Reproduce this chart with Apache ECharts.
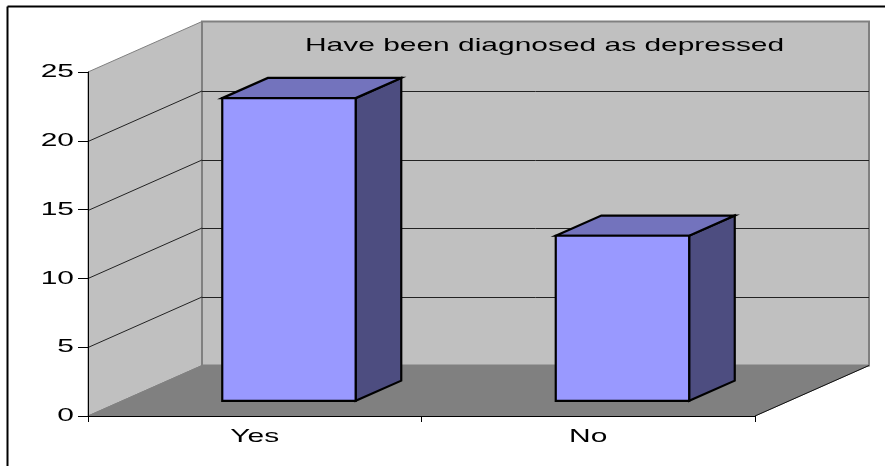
<!DOCTYPE html>
<html>
<head>
<meta charset="utf-8">
<style>html,body{margin:0;padding:0;background:#fff}#chart{width:885px;height:466px}</style>
<script src="https://cdn.jsdelivr.net/npm/echarts@6/dist/echarts.min.js"></script>
</head>
<body>
<div id="chart"></div>
<script>
// Column values and axis labels
const categories = ['Yes', 'No'];
const counts = [22, 12];
const yTicks = [0, 5, 10, 15, 20, 25];
const chartTitle = 'Have been diagnosed as depressed';

// Oblique projection of the box: screen offset from the front plane to the back wall
const DEPTH_X = 114;
const DEPTH_Y = 50.5;
const BAR_FRONT = 0.3;   // depth fraction at which a column starts
const BAR_BACK = 0.7;    // depth fraction at which a column ends
const BAR_WIDTH = 0.4;   // share of a category band
const FONT = '19px "Liberation Sans", Arial, sans-serif';
const STRETCH = 1.575;

const chart = echarts.init(document.getElementById('chart'), null, { renderer: 'canvas' });

function stretchedText(text, x, y, align) {
  return {
    type: 'text', x: x, y: y, scaleX: STRETCH,
    style: { text: text, font: FONT, fill: '#000', align: align, verticalAlign: 'middle' }
  };
}
function poly(points, fill, stroke, lineWidth) {
  return {
    type: 'polygon', shape: { points: points },
    style: { fill: fill, stroke: stroke, lineWidth: lineWidth, lineJoin: 'miter' }
  };
}
function line(x1, y1, x2, y2, stroke, lineWidth) {
  return {
    type: 'line', shape: { x1: x1, y1: y1, x2: x2, y2: y2 },
    style: { stroke: stroke, lineWidth: lineWidth }
  };
}

// Side wall, back wall, floor and gridlines of the box
function renderBox(params, api) {
  const band = api.size([1, 0])[0];
  const bottomLeft = api.coord([0, 0]);
  const x0 = bottomLeft[0] - band / 2;
  const x1 = x0 + band * categories.length;
  const yBase = bottomLeft[1];
  const yTop = api.coord([0, yTicks[yTicks.length - 1]])[1];
  const children = [
    poly([[x0, yTop], [x0 + DEPTH_X, yTop - DEPTH_Y], [x0 + DEPTH_X, yBase - DEPTH_Y], [x0, yBase]], '#c0c0c0', '#808080', 1),
    poly([[x0 + DEPTH_X, yTop - DEPTH_Y], [x1 + DEPTH_X, yTop - DEPTH_Y], [x1 + DEPTH_X, yBase - DEPTH_Y], [x0 + DEPTH_X, yBase - DEPTH_Y]], '#c0c0c0', '#808080', 2),
    poly([[x0, yBase], [x0 + DEPTH_X, yBase - DEPTH_Y], [x1 + DEPTH_X, yBase - DEPTH_Y], [x1, yBase]], '#808080', '#808080', 1),
    line(x1, yBase, x1 + DEPTH_X, yBase - DEPTH_Y, '#111', 1)
  ];
  yTicks.slice(1, -1).forEach(function (t) {
    const y = Math.round(api.coord([0, t])[1]) + 0.5;
    children.push(line(x0, y, x0 + DEPTH_X, y - DEPTH_Y, '#222', 1));
    children.push(line(x0 + DEPTH_X, Math.round(y - DEPTH_Y) + 0.5, x1 + DEPTH_X, Math.round(y - DEPTH_Y) + 0.5, '#222', 1));
  });
  return { type: 'group', children: children };
}

// One column: front, top and side faces
function renderBar(params, api) {
  const band = api.size([1, 0])[0];
  const base = api.coord([api.value(0), 0]);
  const top = api.coord([api.value(0), api.value(1)]);
  const half = band * BAR_WIDTH / 2;
  const fx = DEPTH_X * BAR_FRONT, fy = DEPTH_Y * BAR_FRONT;
  const bx = DEPTH_X * BAR_BACK, by = DEPTH_Y * BAR_BACK;
  const l = base[0] - half, r = base[0] + half;
  const frontBase = base[1] - fy, frontTop = top[1] - fy;
  const backBase = base[1] - by, backTop = top[1] - by;
  return {
    type: 'group',
    children: [
      poly([[r + fx, frontTop], [r + bx, backTop], [r + bx, backBase], [r + fx, frontBase]], '#4d4d80', '#000', 2.2),
      poly([[l + fx, frontTop], [l + bx, backTop], [r + bx, backTop], [r + fx, frontTop]], '#7373bd', '#000', 2.2),
      poly([[l + fx, frontTop], [r + fx, frontTop], [r + fx, frontBase], [l + fx, frontBase]], '#9999ff', '#000', 2.2)
    ]
  };
}

// Wide-set tick labels, placed through the axis scales
function renderLabels(params, api) {
  const children = [];
  yTicks.forEach(function (t) {
    const p = api.coord([0, t]);
    const x0 = p[0] - api.size([1, 0])[0] / 2;
    children.push(stretchedText(String(t), x0 - 14, p[1], 'right'));
  });
  categories.forEach(function (c, i) {
    const p = api.coord([i, 0]);
    children.push(stretchedText(c, p[0], p[1] + 21, 'center'));
  });
  const tl = api.coord([0, yTicks[yTicks.length - 1]]);
  children.push(stretchedText(chartTitle, 305, tl[1] - 26, 'left'));
  return { type: 'group', children: children };
}

chart.setOption({
  animation: false,
  backgroundColor: '#fff',
  grid: { left: 88, top: 72, width: 667, height: 344 },
  xAxis: {
    type: 'category', data: categories, z: 5,
    axisLine: { lineStyle: { color: '#000', width: 1 } },
    axisTick: { show: true, length: 6, alignWithLabel: false, lineStyle: { color: '#000' } },
    axisLabel: { show: false },
    splitLine: { show: false }
  },
  yAxis: {
    type: 'value', min: 0, max: 25, interval: 5, z: 5,
    axisLine: { show: true, lineStyle: { color: '#000', width: 1 } },
    axisTick: { show: true, length: 10, lineStyle: { color: '#000' } },
    axisLabel: { show: false },
    splitLine: { show: false }
  },
  graphic: [
    { type: 'line', silent: true, shape: { x1: 7.5, y1: 6.5, x2: 885, y2: 6.5 }, style: { stroke: '#000', lineWidth: 2 } },
    { type: 'line', silent: true, shape: { x1: 7.5, y1: 6.5, x2: 7.5, y2: 466 }, style: { stroke: '#000', lineWidth: 2 } }
  ],
  series: [
    { type: 'custom', z: 1, silent: true, renderItem: renderBox, data: [[0, 0]], encode: { x: 0, y: 1 }, clip: false },
    { type: 'custom', z: 2, silent: true, renderItem: renderBar, data: categories.map(function (c, i) { return [i, counts[i]]; }), encode: { x: 0, y: 1 }, clip: false },
    { type: 'custom', z: 6, silent: true, renderItem: renderLabels, data: [[0, 0]], encode: { x: 0, y: 1 }, clip: false }
  ]
});
</script>
</body>
</html>
